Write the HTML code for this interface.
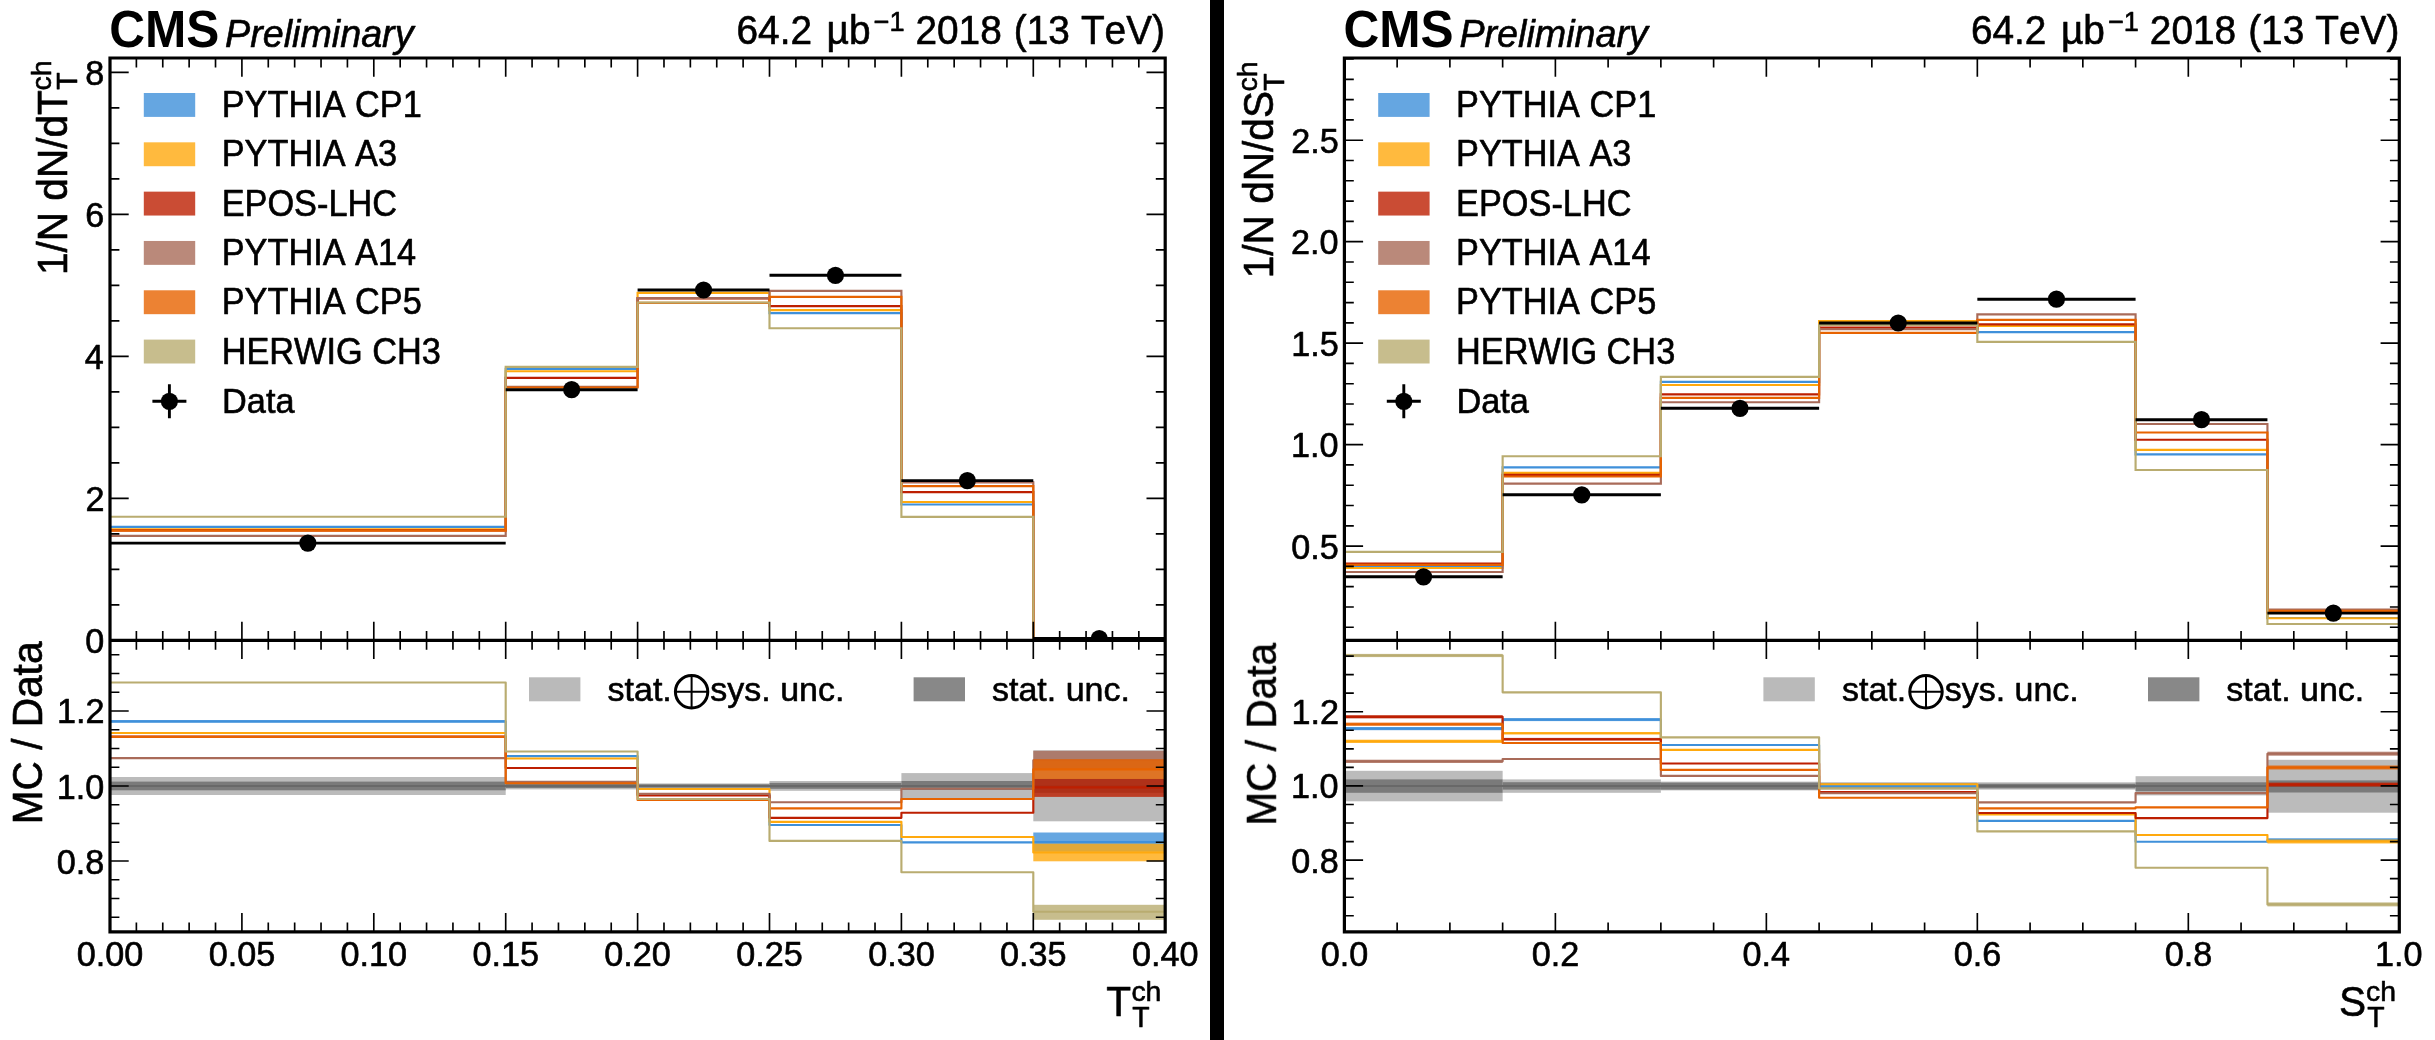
<!DOCTYPE html>
<html><head><meta charset="utf-8"><title>CMS event shapes</title>
<style>html,body{margin:0;padding:0;background:#fff}svg{display:block}svg{will-change:transform}text.n{stroke:#000;stroke-width:0.6px;stroke-linejoin:round}text{font-kerning:none;font-family:"Liberation Sans",sans-serif;fill:#000}</style></head><body>
<svg width="2435" height="1040" viewBox="0 0 2435 1040">
<rect width="2435" height="1040" fill="#fff"/>
<rect x="1210" y="0" width="14" height="1040" fill="#000"/>
<clipPath id="cmL"><rect x="110" y="58" width="1055.2" height="582.4"/></clipPath>
<clipPath id="crL"><rect x="110" y="640.4" width="1055.2" height="291.4"/></clipPath>
<g clip-path="url(#crL)">
<rect x="110" y="777" width="395.7" height="18" fill="#bbbbbb"/>
<rect x="505.7" y="782.4" width="131.9" height="7" fill="#bbbbbb"/>
<rect x="637.6" y="783.4" width="131.9" height="5" fill="#bbbbbb"/>
<rect x="769.5" y="781" width="131.9" height="9.8" fill="#bbbbbb"/>
<rect x="901.4" y="773.1" width="131.9" height="25.2" fill="#bbbbbb"/>
<rect x="1033.3" y="750.3" width="131.9" height="71" fill="#bbbbbb"/>
<rect x="110" y="781.6" width="395.7" height="8.7" fill="#7a7a7a"/>
<rect x="505.7" y="783.9" width="131.9" height="4.1" fill="#7a7a7a"/>
<rect x="637.6" y="784.3" width="131.9" height="3.3" fill="#7a7a7a"/>
<rect x="769.5" y="782.9" width="131.9" height="5.9" fill="#7a7a7a"/>
<rect x="901.4" y="781" width="131.9" height="9" fill="#7a7a7a"/>
<rect x="1033.3" y="778.8" width="131.9" height="14.1" fill="#7a7a7a"/>
<path d="M110 786H1165.2" stroke="#686868" stroke-width="2" fill="none"/>
<rect x="1033.3" y="832.5" width="131.9" height="19.2" fill="#3f90da" fill-opacity="0.8"/>
<rect x="110" y="720.1" width="395.7" height="2.6" fill="#3f90da" fill-opacity="0.8"/>
<path d="M110 721.4H505.7V756.1H637.6V794.5H769.5V825H901.4V842.3H1033.3V842.1H1165.2" stroke="#3f90da" stroke-width="2.15" fill="none" stroke-linejoin="round"/>
<rect x="1033.3" y="843.7" width="131.9" height="17.6" fill="#ffa90e" fill-opacity="0.8"/>
<path d="M110 733H505.7V758.5H637.6V789H769.5V821.8H901.4V837H1033.3V852.5H1165.2" stroke="#ffa90e" stroke-width="2.15" fill="none" stroke-linejoin="round"/>
<rect x="1033.3" y="779" width="131.9" height="17.9" fill="#bd1f01" fill-opacity="0.8"/>
<path d="M110 736.5H505.7V768H637.6V795.5H769.5V817.8H901.4V812.7H1033.3V787.3H1165.2" stroke="#bd1f01" stroke-width="2.15" fill="none" stroke-linejoin="round"/>
<rect x="1033.3" y="750.8" width="131.9" height="18.8" fill="#a96b59" fill-opacity="0.8"/>
<path d="M110 758.1H505.7V781.9H637.6V793.9H769.5V802.2H901.4V788.7H1033.3V760.2H1165.2" stroke="#a96b59" stroke-width="2.15" fill="none" stroke-linejoin="round"/>
<rect x="1033.3" y="759.2" width="131.9" height="19.8" fill="#e76300" fill-opacity="0.8"/>
<path d="M110 736.9H505.7V783.2H637.6V800H769.5V808.4H901.4V799H1033.3V769.4H1165.2" stroke="#e76300" stroke-width="2.15" fill="none" stroke-linejoin="round"/>
<rect x="1033.3" y="904.8" width="131.9" height="15" fill="#b9ac70" fill-opacity="0.8"/>
<path d="M110 682.5H505.7V751.5H637.6V799H769.5V840.9H901.4V872.2H1033.3V911.7H1165.2" stroke="#b9ac70" stroke-width="2.15" fill="none" stroke-linejoin="round"/>
</g>
<g clip-path="url(#cmL)">
<path d="M110 526.8H505.7V368.9H637.6V298H769.5V313.1H901.4V504.5H1033.3V638.8H1165.2" stroke="#3f90da" stroke-width="2.15" fill="none" stroke-linejoin="miter"/>
<path d="M110 529.2H505.7V371.2H637.6V292.9H769.5V310.1H901.4V502H1033.3V638.8H1165.2" stroke="#ffa90e" stroke-width="2.15" fill="none" stroke-linejoin="miter"/>
<path d="M110 530.4H505.7V377.8H637.6V298.3H769.5V306.1H901.4V492.1H1033.3V638.6H1165.2" stroke="#bd1f01" stroke-width="2.15" fill="none" stroke-linejoin="miter"/>
<path d="M110 535.9H505.7V386.7H637.6V298.1H769.5V290.9H901.4V482.3H1033.3V638.5H1165.2" stroke="#a96b59" stroke-width="2.15" fill="none" stroke-linejoin="miter"/>
<path d="M110 530.6H505.7V387.5H637.6V302.9H769.5V296.8H901.4V486.1H1033.3V638.5H1165.2" stroke="#e76300" stroke-width="2.15" fill="none" stroke-linejoin="miter"/>
<path d="M110 516.7H505.7V366.9H637.6V302.5H769.5V328.2H901.4V516.9H1033.3V639H1165.2" stroke="#b9ac70" stroke-width="2.15" fill="none" stroke-linejoin="miter"/>
<path d="M110 543.1H505.7M505.7 389.7H637.6M637.6 290H769.5M769.5 275.3H901.4M901.4 480.6H1033.3M1033.3 638.5H1165.2" stroke="#000" stroke-width="2.9" fill="none"/>
<circle cx="307.85" cy="543.1" r="8.6"/>
<circle cx="571.65" cy="389.7" r="8.6"/>
<circle cx="703.55" cy="290" r="8.6"/>
<circle cx="835.45" cy="275.3" r="8.6"/>
<circle cx="967.35" cy="480.6" r="8.6"/>
<circle cx="1099.25" cy="638.5" r="8.6"/>
</g>
<path d="M241.9 58v18.7M241.9 621.7v37.4M241.9 931.8v-18.7M373.8 58v18.7M373.8 621.7v37.4M373.8 931.8v-18.7M505.7 58v18.7M505.7 621.7v37.4M505.7 931.8v-18.7M637.6 58v18.7M637.6 621.7v37.4M637.6 931.8v-18.7M769.5 58v18.7M769.5 621.7v37.4M769.5 931.8v-18.7M901.4 58v18.7M901.4 621.7v37.4M901.4 931.8v-18.7M1033.3 58v18.7M1033.3 621.7v37.4M1033.3 931.8v-18.7M136.38 58v9.4M136.38 631v18.8M136.38 931.8v-9.4M162.76 58v9.4M162.76 631v18.8M162.76 931.8v-9.4M189.14 58v9.4M189.14 631v18.8M189.14 931.8v-9.4M215.52 58v9.4M215.52 631v18.8M215.52 931.8v-9.4M268.28 58v9.4M268.28 631v18.8M268.28 931.8v-9.4M294.66 58v9.4M294.66 631v18.8M294.66 931.8v-9.4M321.04 58v9.4M321.04 631v18.8M321.04 931.8v-9.4M347.42 58v9.4M347.42 631v18.8M347.42 931.8v-9.4M400.18 58v9.4M400.18 631v18.8M400.18 931.8v-9.4M426.56 58v9.4M426.56 631v18.8M426.56 931.8v-9.4M452.94 58v9.4M452.94 631v18.8M452.94 931.8v-9.4M479.32 58v9.4M479.32 631v18.8M479.32 931.8v-9.4M532.08 58v9.4M532.08 631v18.8M532.08 931.8v-9.4M558.46 58v9.4M558.46 631v18.8M558.46 931.8v-9.4M584.84 58v9.4M584.84 631v18.8M584.84 931.8v-9.4M611.22 58v9.4M611.22 631v18.8M611.22 931.8v-9.4M663.98 58v9.4M663.98 631v18.8M663.98 931.8v-9.4M690.36 58v9.4M690.36 631v18.8M690.36 931.8v-9.4M716.74 58v9.4M716.74 631v18.8M716.74 931.8v-9.4M743.12 58v9.4M743.12 631v18.8M743.12 931.8v-9.4M795.88 58v9.4M795.88 631v18.8M795.88 931.8v-9.4M822.26 58v9.4M822.26 631v18.8M822.26 931.8v-9.4M848.64 58v9.4M848.64 631v18.8M848.64 931.8v-9.4M875.02 58v9.4M875.02 631v18.8M875.02 931.8v-9.4M927.78 58v9.4M927.78 631v18.8M927.78 931.8v-9.4M954.16 58v9.4M954.16 631v18.8M954.16 931.8v-9.4M980.54 58v9.4M980.54 631v18.8M980.54 931.8v-9.4M1006.92 58v9.4M1006.92 631v18.8M1006.92 931.8v-9.4M1059.68 58v9.4M1059.68 631v18.8M1059.68 931.8v-9.4M1086.06 58v9.4M1086.06 631v18.8M1086.06 931.8v-9.4M1112.44 58v9.4M1112.44 631v18.8M1112.44 931.8v-9.4M1138.82 58v9.4M1138.82 631v18.8M1138.82 931.8v-9.4M110 498.4h18.7M1165.2 498.4h-18.7M110 356.4h18.7M1165.2 356.4h-18.7M110 214.4h18.7M1165.2 214.4h-18.7M110 72.4h18.7M1165.2 72.4h-18.7M110 604.9h9.4M1165.2 604.9h-9.4M110 569.4h9.4M1165.2 569.4h-9.4M110 533.9h9.4M1165.2 533.9h-9.4M110 462.9h9.4M1165.2 462.9h-9.4M110 427.4h9.4M1165.2 427.4h-9.4M110 391.9h9.4M1165.2 391.9h-9.4M110 320.9h9.4M1165.2 320.9h-9.4M110 285.4h9.4M1165.2 285.4h-9.4M110 249.9h9.4M1165.2 249.9h-9.4M110 178.9h9.4M1165.2 178.9h-9.4M110 143.4h9.4M1165.2 143.4h-9.4M110 107.9h9.4M1165.2 107.9h-9.4M110 861h18.7M1165.2 861h-18.7M110 786h18.7M1165.2 786h-18.7M110 711h18.7M1165.2 711h-18.7M110 917.25h9.4M1165.2 917.25h-9.4M110 898.5h9.4M1165.2 898.5h-9.4M110 879.75h9.4M1165.2 879.75h-9.4M110 842.25h9.4M1165.2 842.25h-9.4M110 823.5h9.4M1165.2 823.5h-9.4M110 804.75h9.4M1165.2 804.75h-9.4M110 767.25h9.4M1165.2 767.25h-9.4M110 748.5h9.4M1165.2 748.5h-9.4M110 729.75h9.4M1165.2 729.75h-9.4M110 692.25h9.4M1165.2 692.25h-9.4M110 673.5h9.4M1165.2 673.5h-9.4M110 654.75h9.4M1165.2 654.75h-9.4" stroke="#000" stroke-width="1.65" fill="none"/>
<path d="M110 58H1165.2V931.8H110ZM110 640.4H1165.2" stroke="#000" stroke-width="3.2" fill="none" stroke-linejoin="miter"/>
<rect x="143.8" y="93" width="51.4" height="23.9" fill="#3f90da" fill-opacity="0.8"/>
<rect x="143.8" y="142.32" width="51.4" height="23.9" fill="#ffa90e" fill-opacity="0.8"/>
<rect x="143.8" y="191.64" width="51.4" height="23.9" fill="#bd1f01" fill-opacity="0.8"/>
<rect x="143.8" y="240.96" width="51.4" height="23.9" fill="#a96b59" fill-opacity="0.8"/>
<rect x="143.8" y="290.28" width="51.4" height="23.9" fill="#e76300" fill-opacity="0.8"/>
<rect x="143.8" y="339.6" width="51.4" height="23.9" fill="#b9ac70" fill-opacity="0.8"/>
<path d="M152.4 401.3h34M169.4 384.3v34" stroke="#000" stroke-width="2.9" fill="none"/>
<circle cx="169.4" cy="401.3" r="8.6"/>
<rect x="529" y="677.3" width="51.4" height="24" fill="#bababa"/>
<g stroke="#000" fill="none"><circle cx="691.6" cy="691.8" r="16.2" stroke-width="3"/><path stroke-width="2" d="M675.3 691.8h32.6M691.6 675.5v32.6"/></g>
<rect x="913.6" y="677.3" width="51.4" height="24" fill="#888888"/>
<clipPath id="cmR"><rect x="1344.4" y="58" width="1054.9" height="582.4"/></clipPath>
<clipPath id="crR"><rect x="1344.4" y="640.4" width="1054.9" height="291.4"/></clipPath>
<g clip-path="url(#crR)">
<rect x="1344.4" y="770.8" width="158.24" height="30.5" fill="#bbbbbb"/>
<rect x="1502.64" y="779.4" width="158.23" height="13.4" fill="#bbbbbb"/>
<rect x="1660.87" y="781.6" width="158.23" height="8.8" fill="#bbbbbb"/>
<rect x="1819.11" y="782.2" width="158.24" height="7.4" fill="#bbbbbb"/>
<rect x="1977.34" y="782.3" width="158.24" height="7.3" fill="#bbbbbb"/>
<rect x="2135.58" y="776.2" width="131.86" height="19.2" fill="#bbbbbb"/>
<rect x="2267.44" y="759.8" width="131.86" height="52.9" fill="#bbbbbb"/>
<rect x="1344.4" y="779.4" width="158.24" height="13.4" fill="#7a7a7a"/>
<rect x="1502.64" y="782.2" width="158.23" height="7.4" fill="#7a7a7a"/>
<rect x="1660.87" y="782.6" width="158.23" height="7" fill="#7a7a7a"/>
<rect x="1819.11" y="783.4" width="158.24" height="5" fill="#7a7a7a"/>
<rect x="1977.34" y="783.8" width="158.24" height="4.5" fill="#7a7a7a"/>
<rect x="2135.58" y="782.3" width="131.86" height="8.9" fill="#7a7a7a"/>
<rect x="2267.44" y="780.4" width="131.86" height="12.1" fill="#7a7a7a"/>
<path d="M1344.4 785.9H2399.3" stroke="#686868" stroke-width="2" fill="none"/>
<rect x="2267.44" y="838.2" width="131.86" height="3.6" fill="#3f90da" fill-opacity="0.8"/>
<rect x="1344.4" y="727" width="158.24" height="3.2" fill="#3f90da" fill-opacity="0.8"/>
<rect x="1502.64" y="718.1" width="158.23" height="3" fill="#3f90da" fill-opacity="0.8"/>
<path d="M1344.4 728.6H1502.64V719.6H1660.87V745H1819.11V786.1H1977.34V820.9H2135.58V841.7H2267.44V840H2399.3" stroke="#3f90da" stroke-width="2.15" fill="none" stroke-linejoin="round"/>
<rect x="2267.44" y="839.5" width="131.86" height="4" fill="#ffa90e" fill-opacity="0.8"/>
<rect x="1344.4" y="739.7" width="158.24" height="3.2" fill="#ffa90e" fill-opacity="0.8"/>
<rect x="1502.64" y="732.1" width="158.23" height="2.2" fill="#ffa90e" fill-opacity="0.8"/>
<path d="M1344.4 741.3H1502.64V733.2H1660.87V749.9H1819.11V784.2H1977.34V814.4H2135.58V835H2267.44V841.5H2399.3" stroke="#ffa90e" stroke-width="2.15" fill="none" stroke-linejoin="round"/>
<rect x="2267.44" y="782.6" width="131.86" height="4" fill="#bd1f01" fill-opacity="0.8"/>
<rect x="1344.4" y="715.2" width="158.24" height="3.2" fill="#bd1f01" fill-opacity="0.8"/>
<rect x="1502.64" y="737.9" width="158.23" height="2.6" fill="#bd1f01" fill-opacity="0.8"/>
<path d="M1344.4 716.8H1502.64V739.2H1660.87V763.5H1819.11V792H1977.34V813H2135.58V818.1H2267.44V784.6H2399.3" stroke="#bd1f01" stroke-width="2.15" fill="none" stroke-linejoin="round"/>
<rect x="2267.44" y="751.7" width="131.86" height="4" fill="#a96b59" fill-opacity="0.8"/>
<rect x="1344.4" y="759.7" width="158.24" height="3.2" fill="#a96b59" fill-opacity="0.8"/>
<path d="M1344.4 761.3H1502.64V759H1660.87V775.9H1819.11V793.2H1977.34V802.3H2135.58V793.1H2267.44V753.7H2399.3" stroke="#a96b59" stroke-width="2.15" fill="none" stroke-linejoin="round"/>
<rect x="2267.44" y="765.5" width="131.86" height="4" fill="#e76300" fill-opacity="0.8"/>
<rect x="1344.4" y="722.6" width="158.24" height="3.2" fill="#e76300" fill-opacity="0.8"/>
<path d="M1344.4 724.2H1502.64V743H1660.87V769.9H1819.11V797.7H1977.34V808.3H2135.58V807.3H2267.44V767.5H2399.3" stroke="#e76300" stroke-width="2.15" fill="none" stroke-linejoin="round"/>
<rect x="2267.44" y="902.4" width="131.86" height="4" fill="#b9ac70" fill-opacity="0.8"/>
<rect x="1344.4" y="653.9" width="158.24" height="3.2" fill="#b9ac70" fill-opacity="0.8"/>
<path d="M1344.4 655.5H1502.64V692.3H1660.87V737.3H1819.11V788.3H1977.34V831.4H2135.58V867.7H2267.44V904.4H2399.3" stroke="#b9ac70" stroke-width="2.15" fill="none" stroke-linejoin="round"/>
</g>
<g clip-path="url(#cmR)">
<path d="M1344.4 566.3H1502.64V467.4H1660.87V381.8H1819.11V323.2H1977.34V332.1H2135.58V454.3H2267.44V618H2399.3" stroke="#3f90da" stroke-width="2.15" fill="none" stroke-linejoin="miter"/>
<path d="M1344.4 568H1502.64V472.9H1660.87V385H1819.11V321.1H1977.34V326H2135.58V449.8H2267.44V618.2H2399.3" stroke="#ffa90e" stroke-width="2.15" fill="none" stroke-linejoin="miter"/>
<path d="M1344.4 563.5H1502.64V474.9H1660.87V394.3H1819.11V327.6H1977.34V324.4H2135.58V439.7H2267.44V612.4H2399.3" stroke="#bd1f01" stroke-width="2.15" fill="none" stroke-linejoin="miter"/>
<path d="M1344.4 572H1502.64V483.6H1660.87V402.2H1819.11V329.2H1977.34V314.3H2135.58V424H2267.44V609.6H2399.3" stroke="#a96b59" stroke-width="2.15" fill="none" stroke-linejoin="miter"/>
<path d="M1344.4 564.9H1502.64V476.5H1660.87V397.9H1819.11V332.9H1977.34V319.9H2135.58V432.5H2267.44V610.9H2399.3" stroke="#e76300" stroke-width="2.15" fill="none" stroke-linejoin="miter"/>
<path d="M1344.4 551.9H1502.64V456.2H1660.87V376.8H1819.11V324.9H1977.34V341.8H2135.58V470H2267.44V624H2399.3" stroke="#b9ac70" stroke-width="2.15" fill="none" stroke-linejoin="miter"/>
<path d="M1344.4 576.8H1502.64M1502.64 494.8H1660.87M1660.87 408.3H1819.11M1819.11 323H1977.34M1977.34 299.2H2135.58M2135.58 419.7H2267.44M2267.44 613.1H2399.3" stroke="#000" stroke-width="2.9" fill="none"/>
<circle cx="1423.52" cy="576.8" r="8.6"/>
<circle cx="1581.75" cy="494.8" r="8.6"/>
<circle cx="1739.99" cy="408.3" r="8.6"/>
<circle cx="1898.22" cy="323" r="8.6"/>
<circle cx="2056.46" cy="299.2" r="8.6"/>
<circle cx="2201.51" cy="419.7" r="8.6"/>
<circle cx="2333.37" cy="613.1" r="8.6"/>
</g>
<path d="M1555.38 58v18.7M1555.38 621.7v37.4M1555.38 931.8v-18.7M1766.36 58v18.7M1766.36 621.7v37.4M1766.36 931.8v-18.7M1977.34 58v18.7M1977.34 621.7v37.4M1977.34 931.8v-18.7M2188.32 58v18.7M2188.32 621.7v37.4M2188.32 931.8v-18.7M1397.14 58v9.4M1397.14 631v18.8M1397.14 931.8v-9.4M1449.89 58v9.4M1449.89 631v18.8M1449.89 931.8v-9.4M1502.64 58v9.4M1502.64 631v18.8M1502.64 931.8v-9.4M1608.12 58v9.4M1608.12 631v18.8M1608.12 931.8v-9.4M1660.87 58v9.4M1660.87 631v18.8M1660.87 931.8v-9.4M1713.62 58v9.4M1713.62 631v18.8M1713.62 931.8v-9.4M1819.11 58v9.4M1819.11 631v18.8M1819.11 931.8v-9.4M1871.85 58v9.4M1871.85 631v18.8M1871.85 931.8v-9.4M1924.6 58v9.4M1924.6 631v18.8M1924.6 931.8v-9.4M2030.09 58v9.4M2030.09 631v18.8M2030.09 931.8v-9.4M2082.83 58v9.4M2082.83 631v18.8M2082.83 931.8v-9.4M2135.58 58v9.4M2135.58 631v18.8M2135.58 931.8v-9.4M2241.07 58v9.4M2241.07 631v18.8M2241.07 931.8v-9.4M2293.81 58v9.4M2293.81 631v18.8M2293.81 931.8v-9.4M2346.56 58v9.4M2346.56 631v18.8M2346.56 931.8v-9.4M1344.4 546.1h18.7M2399.3 546.1h-18.7M1344.4 444.62h18.7M2399.3 444.62h-18.7M1344.4 343.15h18.7M2399.3 343.15h-18.7M1344.4 241.68h18.7M2399.3 241.68h-18.7M1344.4 140.2h18.7M2399.3 140.2h-18.7M1344.4 627.28h9.4M2399.3 627.28h-9.4M1344.4 606.99h9.4M2399.3 606.99h-9.4M1344.4 586.69h9.4M2399.3 586.69h-9.4M1344.4 566.39h9.4M2399.3 566.39h-9.4M1344.4 525.81h9.4M2399.3 525.81h-9.4M1344.4 505.51h9.4M2399.3 505.51h-9.4M1344.4 485.22h9.4M2399.3 485.22h-9.4M1344.4 464.92h9.4M2399.3 464.92h-9.4M1344.4 424.33h9.4M2399.3 424.33h-9.4M1344.4 404.03h9.4M2399.3 404.03h-9.4M1344.4 383.74h9.4M2399.3 383.74h-9.4M1344.4 363.44h9.4M2399.3 363.44h-9.4M1344.4 322.86h9.4M2399.3 322.86h-9.4M1344.4 302.56h9.4M2399.3 302.56h-9.4M1344.4 282.27h9.4M2399.3 282.27h-9.4M1344.4 261.97h9.4M2399.3 261.97h-9.4M1344.4 221.38h9.4M2399.3 221.38h-9.4M1344.4 201.08h9.4M2399.3 201.08h-9.4M1344.4 180.79h9.4M2399.3 180.79h-9.4M1344.4 160.49h9.4M2399.3 160.49h-9.4M1344.4 119.91h9.4M2399.3 119.91h-9.4M1344.4 99.61h9.4M2399.3 99.61h-9.4M1344.4 79.31h9.4M2399.3 79.31h-9.4M1344.4 59.02h9.4M2399.3 59.02h-9.4M1344.4 860.1h18.7M2399.3 860.1h-18.7M1344.4 785.9h18.7M2399.3 785.9h-18.7M1344.4 711.7h18.7M2399.3 711.7h-18.7M1344.4 915.75h9.4M2399.3 915.75h-9.4M1344.4 897.2h9.4M2399.3 897.2h-9.4M1344.4 878.65h9.4M2399.3 878.65h-9.4M1344.4 841.55h9.4M2399.3 841.55h-9.4M1344.4 823h9.4M2399.3 823h-9.4M1344.4 804.45h9.4M2399.3 804.45h-9.4M1344.4 767.35h9.4M2399.3 767.35h-9.4M1344.4 748.8h9.4M2399.3 748.8h-9.4M1344.4 730.25h9.4M2399.3 730.25h-9.4M1344.4 693.15h9.4M2399.3 693.15h-9.4M1344.4 674.6h9.4M2399.3 674.6h-9.4M1344.4 656.05h9.4M2399.3 656.05h-9.4" stroke="#000" stroke-width="1.65" fill="none"/>
<path d="M1344.4 58H2399.3V931.8H1344.4ZM1344.4 640.4H2399.3" stroke="#000" stroke-width="3.2" fill="none" stroke-linejoin="miter"/>
<rect x="1378.2" y="93" width="51.4" height="23.9" fill="#3f90da" fill-opacity="0.8"/>
<rect x="1378.2" y="142.32" width="51.4" height="23.9" fill="#ffa90e" fill-opacity="0.8"/>
<rect x="1378.2" y="191.64" width="51.4" height="23.9" fill="#bd1f01" fill-opacity="0.8"/>
<rect x="1378.2" y="240.96" width="51.4" height="23.9" fill="#a96b59" fill-opacity="0.8"/>
<rect x="1378.2" y="290.28" width="51.4" height="23.9" fill="#e76300" fill-opacity="0.8"/>
<rect x="1378.2" y="339.6" width="51.4" height="23.9" fill="#b9ac70" fill-opacity="0.8"/>
<path d="M1386.8 401.3h34M1403.8 384.3v34" stroke="#000" stroke-width="2.9" fill="none"/>
<circle cx="1403.8" cy="401.3" r="8.6"/>
<rect x="1763.4" y="677.3" width="51.4" height="24" fill="#bababa"/>
<g stroke="#000" fill="none"><circle cx="1926" cy="691.8" r="16.2" stroke-width="3"/><path stroke-width="2" d="M1909.7 691.8h32.6M1926 675.5v32.6"/></g>
<rect x="2148" y="677.3" width="51.4" height="24" fill="#888888"/>
<g style="filter:grayscale(1)"><text transform="translate(104.24 652.9) scale(1 1.03)" font-size="34.2" text-anchor="end" class="n">0</text>
<text transform="translate(104.62 510.9) scale(1 1.03)" font-size="34.2" text-anchor="end" class="n">2</text>
<text transform="translate(103.9 368.9) scale(1 1.03)" font-size="34.2" text-anchor="end" class="n">4</text>
<text transform="translate(104.4 226.9) scale(1 1.03)" font-size="34.2" text-anchor="end" class="n">6</text>
<text transform="translate(104.39 84.9) scale(1 1.03)" font-size="34.2" text-anchor="end" class="n">8</text>
<text transform="translate(104.62 723.4) scale(1 1.03)" font-size="34.2" text-anchor="end" class="n">1.2</text>
<text transform="translate(104.24 798.5) scale(1 1.03)" font-size="34.2" text-anchor="end" class="n">1.0</text>
<text transform="translate(104.39 873.5) scale(1 1.03)" font-size="34.2" text-anchor="end" class="n">0.8</text>
<text transform="translate(110 966.2) scale(1 1.03)" font-size="34.2" text-anchor="middle" class="n">0.00</text>
<text transform="translate(241.95 966.2) scale(1 1.03)" font-size="34.2" text-anchor="middle" class="n">0.05</text>
<text transform="translate(373.8 966.2) scale(1 1.03)" font-size="34.2" text-anchor="middle" class="n">0.10</text>
<text transform="translate(505.75 966.2) scale(1 1.03)" font-size="34.2" text-anchor="middle" class="n">0.15</text>
<text transform="translate(637.6 966.2) scale(1 1.03)" font-size="34.2" text-anchor="middle" class="n">0.20</text>
<text transform="translate(769.55 966.2) scale(1 1.03)" font-size="34.2" text-anchor="middle" class="n">0.25</text>
<text transform="translate(901.4 966.2) scale(1 1.03)" font-size="34.2" text-anchor="middle" class="n">0.30</text>
<text transform="translate(1033.35 966.2) scale(1 1.03)" font-size="34.2" text-anchor="middle" class="n">0.35</text>
<text transform="translate(1165.2 966.2) scale(1 1.03)" font-size="34.2" text-anchor="middle" class="n">0.40</text>
<text transform="translate(109.17 46.9) scale(1 1.04)" font-size="49.55" font-weight="bold">CMS</text>
<text transform="translate(225.04 46.9) scale(1 1.03)" font-size="37.7" font-style="italic" class="n">Preliminary</text>
<text transform="translate(736.53 43.8) scale(1 1.03)" font-size="38.8" class="n">64.2</text>
<text transform="translate(826.55 43.8) scale(1 1.03)" font-size="38.8" class="n">µb</text>
<text transform="translate(915.45 43.8) scale(1 1.03)" font-size="38.8" class="n">2018</text>
<text transform="translate(1013.79 43.8) scale(1 1.03)" font-size="38.8" class="n">(13</text>
<text transform="translate(1080.93 43.8) scale(1 1.03)" font-size="38.8" class="n">TeV)</text>
<text transform="translate(873.56 30.5) scale(1 1.03)" font-size="27.16" class="n">−1</text>
<text transform="translate(221.69 116.9) scale(1 1.07)" font-size="34.3" class="n">PYTHIA CP1</text>
<text transform="translate(221.69 166.22) scale(1 1.07)" font-size="34.3" class="n">PYTHIA A3</text>
<text transform="translate(221.69 215.54) scale(1 1.07)" font-size="34.3" class="n">EPOS-LHC</text>
<text transform="translate(221.69 264.86) scale(1 1.07)" font-size="34.3" class="n">PYTHIA A14</text>
<text transform="translate(221.69 314.18) scale(1 1.07)" font-size="34.3" class="n">PYTHIA CP5</text>
<text transform="translate(221.69 363.5) scale(1 1.07)" font-size="34.3" class="n">HERWIG CH3</text>
<text transform="translate(222.09 412.82) scale(1 1.03)" font-size="34.3" class="n">Data</text>
<text transform="translate(607.55 700.7) scale(1 0.98)" font-size="34" class="n">stat.</text>
<text transform="translate(710.25 700.7) scale(1 0.98)" font-size="34" class="n">sys. unc.</text>
<text transform="translate(991.95 700.7) scale(1 0.98)" font-size="34" class="n">stat. unc.</text>
<text transform="translate(1106.19 1015.8) scale(1 1.06)" font-size="40.6" class="n">T</text>
<text transform="translate(1131.39 1001)" font-size="28.4" class="n">ch</text>
<text transform="translate(1132.36 1026.5) scale(1 1.04)" font-size="28.4" class="n">T</text>
<text transform="translate(66.7 275.09) rotate(-90) scale(1 1.06)" font-size="40.6" class="n">1/N dN/dT</text>
<text transform="translate(51 90.41) rotate(-90)" font-size="28.4" class="n">ch</text>
<text transform="translate(77.3 89.84) rotate(-90) scale(1 1.04)" font-size="28.4" class="n">T</text>
<text transform="translate(42 824.23) rotate(-90) scale(1 1.06)" font-size="40.6" class="n">MC / Data</text>
<text transform="translate(1338.74 558.6) scale(1 1.03)" font-size="34.2" text-anchor="end" class="n">0.5</text>
<text transform="translate(1338.64 457.12) scale(1 1.03)" font-size="34.2" text-anchor="end" class="n">1.0</text>
<text transform="translate(1338.74 355.65) scale(1 1.03)" font-size="34.2" text-anchor="end" class="n">1.5</text>
<text transform="translate(1338.64 254.18) scale(1 1.03)" font-size="34.2" text-anchor="end" class="n">2.0</text>
<text transform="translate(1338.74 152.7) scale(1 1.03)" font-size="34.2" text-anchor="end" class="n">2.5</text>
<text transform="translate(1339.02 724.2) scale(1 1.03)" font-size="34.2" text-anchor="end" class="n">1.2</text>
<text transform="translate(1338.64 798.4) scale(1 1.03)" font-size="34.2" text-anchor="end" class="n">1.0</text>
<text transform="translate(1338.79 872.6) scale(1 1.03)" font-size="34.2" text-anchor="end" class="n">0.8</text>
<text transform="translate(1344.4 966.2) scale(1 1.03)" font-size="34.2" text-anchor="middle" class="n">0.0</text>
<text transform="translate(1555.57 966.2) scale(1 1.03)" font-size="34.2" text-anchor="middle" class="n">0.2</text>
<text transform="translate(1766.19 966.2) scale(1 1.03)" font-size="34.2" text-anchor="middle" class="n">0.4</text>
<text transform="translate(1977.42 966.2) scale(1 1.03)" font-size="34.2" text-anchor="middle" class="n">0.6</text>
<text transform="translate(2188.4 966.2) scale(1 1.03)" font-size="34.2" text-anchor="middle" class="n">0.8</text>
<text transform="translate(2398.67 966.2) scale(1 1.03)" font-size="34.2" text-anchor="middle" class="n">1.0</text>
<text transform="translate(1343.57 46.9) scale(1 1.04)" font-size="49.55" font-weight="bold">CMS</text>
<text transform="translate(1459.44 46.9) scale(1 1.03)" font-size="37.7" font-style="italic" class="n">Preliminary</text>
<text transform="translate(1970.93 43.8) scale(1 1.03)" font-size="38.8" class="n">64.2</text>
<text transform="translate(2060.95 43.8) scale(1 1.03)" font-size="38.8" class="n">µb</text>
<text transform="translate(2149.85 43.8) scale(1 1.03)" font-size="38.8" class="n">2018</text>
<text transform="translate(2248.19 43.8) scale(1 1.03)" font-size="38.8" class="n">(13</text>
<text transform="translate(2315.33 43.8) scale(1 1.03)" font-size="38.8" class="n">TeV)</text>
<text transform="translate(2107.96 30.5) scale(1 1.03)" font-size="27.16" class="n">−1</text>
<text transform="translate(1456.09 116.9) scale(1 1.07)" font-size="34.3" class="n">PYTHIA CP1</text>
<text transform="translate(1456.09 166.22) scale(1 1.07)" font-size="34.3" class="n">PYTHIA A3</text>
<text transform="translate(1456.09 215.54) scale(1 1.07)" font-size="34.3" class="n">EPOS-LHC</text>
<text transform="translate(1456.09 264.86) scale(1 1.07)" font-size="34.3" class="n">PYTHIA A14</text>
<text transform="translate(1456.09 314.18) scale(1 1.07)" font-size="34.3" class="n">PYTHIA CP5</text>
<text transform="translate(1456.09 363.5) scale(1 1.07)" font-size="34.3" class="n">HERWIG CH3</text>
<text transform="translate(1456.49 412.82) scale(1 1.03)" font-size="34.3" class="n">Data</text>
<text transform="translate(1841.95 700.7) scale(1 0.98)" font-size="34" class="n">stat.</text>
<text transform="translate(1944.65 700.7) scale(1 0.98)" font-size="34" class="n">sys. unc.</text>
<text transform="translate(2226.35 700.7) scale(1 0.98)" font-size="34" class="n">stat. unc.</text>
<text transform="translate(2339.06 1015.7) scale(1 1.06)" font-size="40.6" class="n">S</text>
<text transform="translate(2365.99 1001)" font-size="28.4" class="n">ch</text>
<text transform="translate(2367.16 1026.5) scale(1 1.04)" font-size="28.4" class="n">T</text>
<text transform="translate(1273 278.29) rotate(-90) scale(1 1.06)" font-size="40.6" class="n">1/N dN/dS</text>
<text transform="translate(1257.3 91.41) rotate(-90)" font-size="28.4" class="n">ch</text>
<text transform="translate(1283.7 90.84) rotate(-90) scale(1 1.04)" font-size="28.4" class="n">T</text>
<text transform="translate(1276.2 825.73) rotate(-90) scale(1 1.06)" font-size="40.6" class="n">MC / Data</text></g>
</svg></body></html>
